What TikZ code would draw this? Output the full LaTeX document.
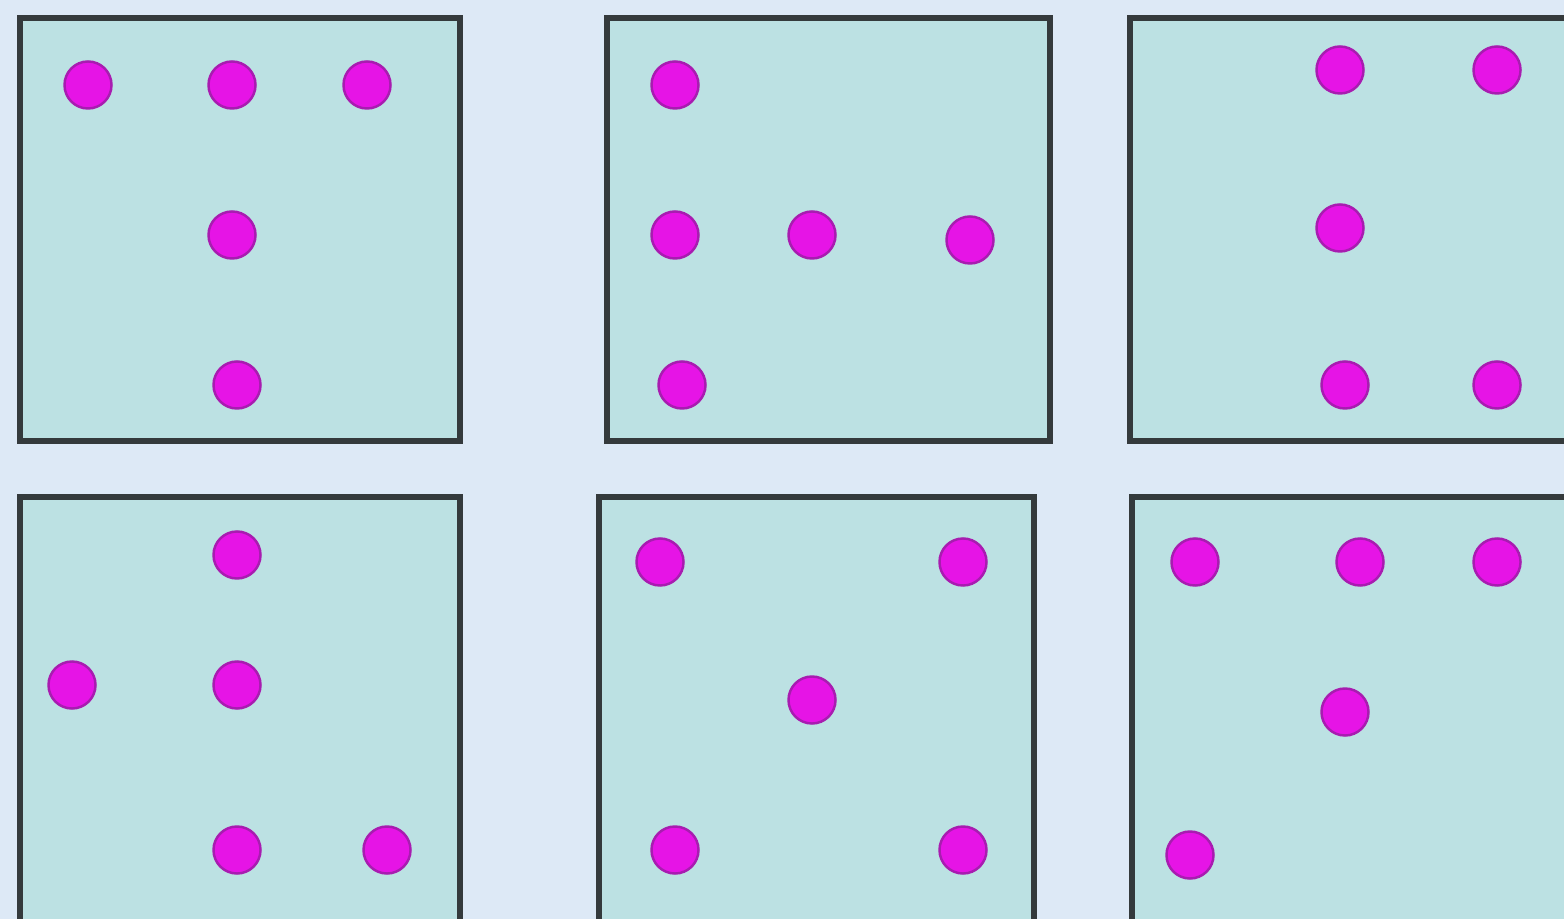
\documentclass[tikz,border=0pt]{standalone}
\definecolor{bgblue}{HTML}{DDE9F6}
\definecolor{boxfill}{HTML}{BCE1E3}
\definecolor{boxline}{HTML}{343A3C}
\definecolor{dotfill}{HTML}{E614E6}
\definecolor{dotline}{HTML}{A81CB0}
\tikzset{
  panel/.style={draw=boxline, line width=1.6pt, fill=boxfill},
  pip/.style={circle, fill=dotfill, draw=dotline, line width=0.7pt, minimum size=0.47cm, inner sep=0pt}
}
\begin{document}
\begin{tikzpicture}[x=0.01cm,y=-0.01cm]
\useasboundingbox (0,0) rectangle (1564,919);
\clip (0,0) rectangle (1564,919);
\fill[bgblue] (0,0) rectangle (1564,919);
% panels
\draw[panel] (20,18) rectangle (460,441);
\draw[panel] (607,18) rectangle (1050,441);
\draw[panel] (1130,18) rectangle (1600,441);
\draw[panel] (20,497) rectangle (460,940);
\draw[panel] (599,497) rectangle (1034,940);
\draw[panel] (1132,497) rectangle (1600,940);
% panel 1
\node[pip] (a1) at (88,85) {};
\node[pip] (a2) at (232,85) {};
\node[pip] (a3) at (367,85) {};
\node[pip] (a4) at (232,235) {};
\node[pip] (a5) at (237,385) {};
% panel 2
\node[pip] (b1) at (675,85) {};
\node[pip] (b2) at (675,235) {};
\node[pip] (b3) at (812,235) {};
\node[pip] (b4) at (970,240) {};
\node[pip] (b5) at (682,385) {};
% panel 3
\node[pip] (c1) at (1340,70) {};
\node[pip] (c2) at (1497,70) {};
\node[pip] (c3) at (1340,228) {};
\node[pip] (c4) at (1345,385) {};
\node[pip] (c5) at (1497,385) {};
% panel 4
\node[pip] (d1) at (237,555) {};
\node[pip] (d2) at (72,685) {};
\node[pip] (d3) at (237,685) {};
\node[pip] (d4) at (237,850) {};
\node[pip] (d5) at (387,850) {};
% panel 5
\node[pip] (e1) at (660,562) {};
\node[pip] (e2) at (963,562) {};
\node[pip] (e3) at (812,700) {};
\node[pip] (e4) at (675,850) {};
\node[pip] (e5) at (963,850) {};
% panel 6
\node[pip] (f1) at (1195,562) {};
\node[pip] (f2) at (1360,562) {};
\node[pip] (f3) at (1497,562) {};
\node[pip] (f4) at (1345,712) {};
\node[pip] (f5) at (1190,855) {};
\end{tikzpicture}
\end{document}
